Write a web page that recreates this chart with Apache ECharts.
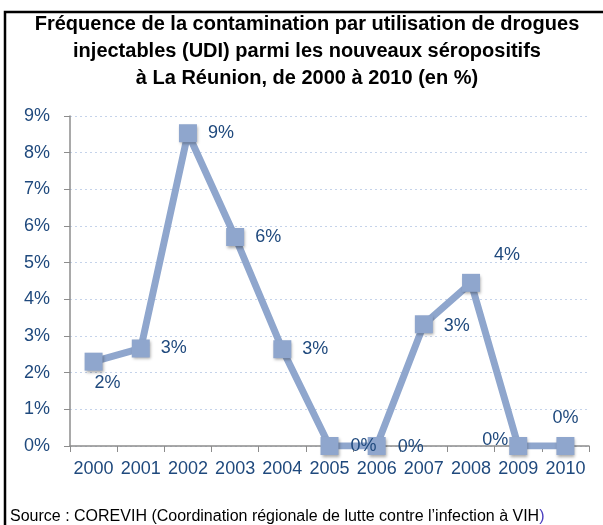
<!DOCTYPE html>
<html>
<head>
<meta charset="utf-8">
<script src="https://cdn.jsdelivr.net/npm/echarts@6/dist/echarts.min.js"></script>
<style>
html, body { margin: 0; padding: 0; background: #fff; }
#chart { width: 603px; height: 525px; }
</style>
</head>
<body>
<div id="chart"></div>
<script>
// données (en %)
var years = ['2000', '2001', '2002', '2003', '2004', '2005', '2006', '2007', '2008', '2009', '2010'];
var udiShare = [2.3, 2.66, 8.53, 5.7, 2.64, 0, 0, 3.32, 4.45, 0, 0];
var yTicks = [0, 1, 2, 3, 4, 5, 6, 7, 8, 9];

// placement des étiquettes, point par point
var labelPlace = [
  { position: 'bottom', offset: [14, -2] },
  { position: 'right', offset: [6, 0] },
  { position: 'right', offset: [6, 0] },
  { position: 'right', offset: [6, 0] },
  { position: 'right', offset: [6, 0] },
  { position: 'right', offset: [7, 0] },
  { position: 'right', offset: [7, 1] },
  { position: 'right', offset: [6, 2] },
  { position: 'top', offset: [36, -5] },
  { position: 'left', offset: [4, -6] },
  { position: 'top', offset: [0, -5] }
];

var blue = '#8fa6cd';
var textBlue = '#1f497d';

var chart = echarts.init(document.getElementById('chart'));

chart.setOption({
  backgroundColor: '#fff',
  animation: false,
  textStyle: { fontFamily: 'Liberation Sans, Arial, sans-serif' },
  title: {
    text: 'Fréquence de la contamination par utilisation de drogues\ninjectables (UDI) parmi les nouveaux séropositifs\nà La Réunion, de 2000 à 2010 (en %)',
    left: 302,
    textAlign: 'center',
    top: 6,
    textStyle: {
      fontSize: 20,
      fontWeight: 'bold',
      color: '#000',
      lineHeight: 27
    }
  },
  graphic: [{
    type: 'rect',
    shape: { x: 5, y: 12, width: 700, height: 600 },
    style: { fill: 'none', stroke: '#000', lineWidth: 2.5 },
    silent: true
  }, {
    type: 'text',
    left: 10,
    top: 509,
    style: {
      text: 'Source : COREVIH (Coordination régionale de lutte contre l’infection à VIH{b|)}',
      font: '16px Liberation Sans, Arial, sans-serif',
      fill: '#000',
      rich: { b: { fill: '#4b3fbf', font: '16px Liberation Sans, Arial, sans-serif' } }
    }
  }],
  grid: {
    left: 70,
    right: 14,
    top: 116,
    bottom: 79
  },
  xAxis: {
    type: 'category',
    data: years,
    boundaryGap: true,
    axisLine: { lineStyle: { color: '#8c8c8c', width: 1.5 } },
    axisTick: { show: true, length: 6, lineStyle: { color: '#8c8c8c' } },
    axisLabel: { interval: 0, fontSize: 18, color: textBlue, margin: 14 }
  },
  yAxis: {
    type: 'value',
    min: yTicks[0],
    max: yTicks[yTicks.length - 1],
    interval: 1,
    axisLine: { show: true, lineStyle: { color: '#8c8c8c', width: 1.5 } },
    axisTick: { show: true, length: 6, lineStyle: { color: '#8c8c8c' } },
    axisLabel: {
      fontSize: 18,
      color: textBlue,
      margin: 20,
      formatter: function (v) { return v + '%'; }
    },
    splitLine: {
      show: true,
      lineStyle: { type: [2, 3], color: '#c5d3ea', width: 1 }
    }
  },
  series: [{
    type: 'line',
    data: udiShare.map(function (v, i) {
      return { value: v, label: labelPlace[i] };
    }),
    symbol: 'rect',
    symbolSize: 18,
    lineStyle: { color: blue, width: 7 },
    itemStyle: {
      color: blue,
      shadowBlur: 3,
      shadowColor: 'rgba(0,0,0,0.35)',
      shadowOffsetX: 1,
      shadowOffsetY: 2
    },
    label: {
      show: true,
      fontSize: 18,
      color: textBlue,
      formatter: function (p) { return Math.round(p.value) + '%'; }
    },
    z: 3
  }]
});
</script>
</body>
</html>
